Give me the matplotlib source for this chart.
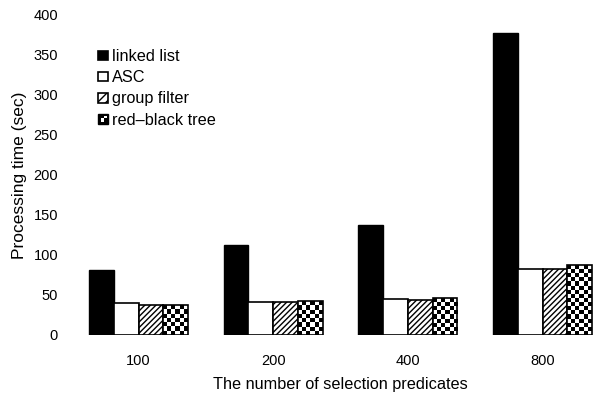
import numpy as np
import matplotlib
matplotlib.use("Agg")
import matplotlib.pyplot as plt
from matplotlib.patches import Rectangle, Patch
from matplotlib.legend_handler import HandlerBase

categories = ["100", "200", "400", "800"]
series_names = ["linked list", "ASC", "group filter", "red\u2013black tree"]
linked_list = [81, 112.5, 137.5, 377.5]
asc = [40, 41, 45, 82.5]
group_filter = [37, 41, 44, 82.5]
red_black_tree = [37.5, 42.5, 46, 87.5]
yticks = [0, 50, 100, 150, 200, 250, 300, 350, 400]

plt.rcParams['font.family'] = ['Liberation Sans', 'DejaVu Sans']
plt.rcParams['hatch.linewidth'] = 1.0

W, H = 597, 397
fig = plt.figure(figsize=(W / 100, H / 100), dpi=100)
ax_l, ax_r, ax_t, ax_b = 65, 597, 15, 335
ax = fig.add_axes([ax_l / W, 1 - ax_b / H, (ax_r - ax_l) / W, (ax_b - ax_t) / H])

spacing_px = 134.7
c0_px = 138.5
xlim = ((ax_l - c0_px) / spacing_px, (ax_r - c0_px) / spacing_px)

x = np.arange(len(categories))
bw = 24.75 / spacing_px
offs = np.array([-1.5, -0.5, 0.5, 1.5]) * bw

ax.bar(x + offs[0], linked_list, bw, color='black', edgecolor='black', linewidth=1)
ax.bar(x + offs[1], asc, bw, color='white', edgecolor='black', linewidth=1.2)
ax.bar(x + offs[2], group_filter, bw, color='white', edgecolor='black', linewidth=1.2, hatch='//////')
rb = ax.bar(x + offs[3], red_black_tree, bw, facecolor='none', edgecolor='black', linewidth=1.2, zorder=3)

# checkerboard fill for red-black tree bars
px_per_unit = (ax_b - ax_t) / 400.0
cell = 4.2
for rect, v in zip(rb, red_black_tree):
    x0 = rect.get_x()
    w = rect.get_width()
    ncol = 6
    nrow = max(1, int(round(v * px_per_unit / cell)))
    chk = (np.add.outer(np.arange(nrow), np.arange(ncol)) % 2).astype(float)
    im = ax.imshow(chk, cmap='gray', extent=[x0, x0 + w, 0, v], aspect='auto',
                   interpolation='nearest', origin='lower', zorder=2, vmin=0, vmax=1)
    im.set_clip_path(rect)
ax.set_xlim(*xlim)
ax.set_ylim(0, 400)

ax.set_xticks(x)
ax.set_xticklabels(categories, fontsize=10.5)
ax.set_yticks(yticks)
ax.set_yticklabels([str(t) for t in yticks], fontsize=10.5)
ax.tick_params(axis='both', length=0)
ax.tick_params(axis='x', pad=14)
ax.tick_params(axis='y', pad=5)
for s in ax.spines.values():
    s.set_visible(False)

fig.text(340 / W, 1 - 384 / H, "The number of selection predicates", ha='center', va='center', fontsize=11.7)
fig.text(20 / W, 1 - 175 / H, "Processing time (sec)", ha='center', va='center', rotation=90, fontsize=12.5)


class CheckerHandler(HandlerBase):
    def create_artists(self, legend, orig_handle, xdescent, ydescent, width, height, fontsize, trans):
        arts = []
        s = min(width, height)
        x0 = -xdescent
        y0 = -ydescent + (height - s) / 2
        base = Rectangle((x0, y0), s, s, facecolor='black', edgecolor='black', lw=1, transform=trans)
        arts.append(base)
        h2 = s / 2
        wsq = Rectangle((x0 + h2 * 0.5, y0 + h2 * 0.4), h2 * 0.7, h2 * 0.7, facecolor='white',
                        edgecolor='none', transform=trans)
        arts.append(wsq)
        wsq2 = Rectangle((x0 + h2 * 1.2, y0 + h2 * 1.1), h2 * 0.6, h2 * 0.6, facecolor='white',
                         edgecolor='none', transform=trans)
        arts.append(wsq2)
        return arts


class SquareHandler(HandlerBase):
    def create_artists(self, legend, orig_handle, xdescent, ydescent, width, height, fontsize, trans):
        s = min(width, height)
        x0 = -xdescent
        y0 = -ydescent + (height - s) / 2
        r = Rectangle((x0, y0), s, s, facecolor=orig_handle.get_facecolor(),
                      edgecolor='black', lw=1.2, hatch=orig_handle.get_hatch(), transform=trans)
        return [r]


handles = [Patch(facecolor='black', edgecolor='black'),
           Patch(facecolor='white', edgecolor='black'),
           Patch(facecolor='white', edgecolor='black', hatch='////'),
           Patch(facecolor='white', edgecolor='black')]
leg = fig.legend(handles, series_names, loc='upper left', bbox_to_anchor=(90 / W, 1 - 41 / H),
                 frameon=False, fontsize=11.7, handlelength=0.6, handleheight=0.6,
                 handletextpad=0.25, labelspacing=0.38, borderpad=0,
                 handler_map={handles[0]: SquareHandler(), handles[1]: SquareHandler(),
                              handles[2]: SquareHandler(), handles[3]: CheckerHandler()})

fig.savefig("out.png", dpi=100)
